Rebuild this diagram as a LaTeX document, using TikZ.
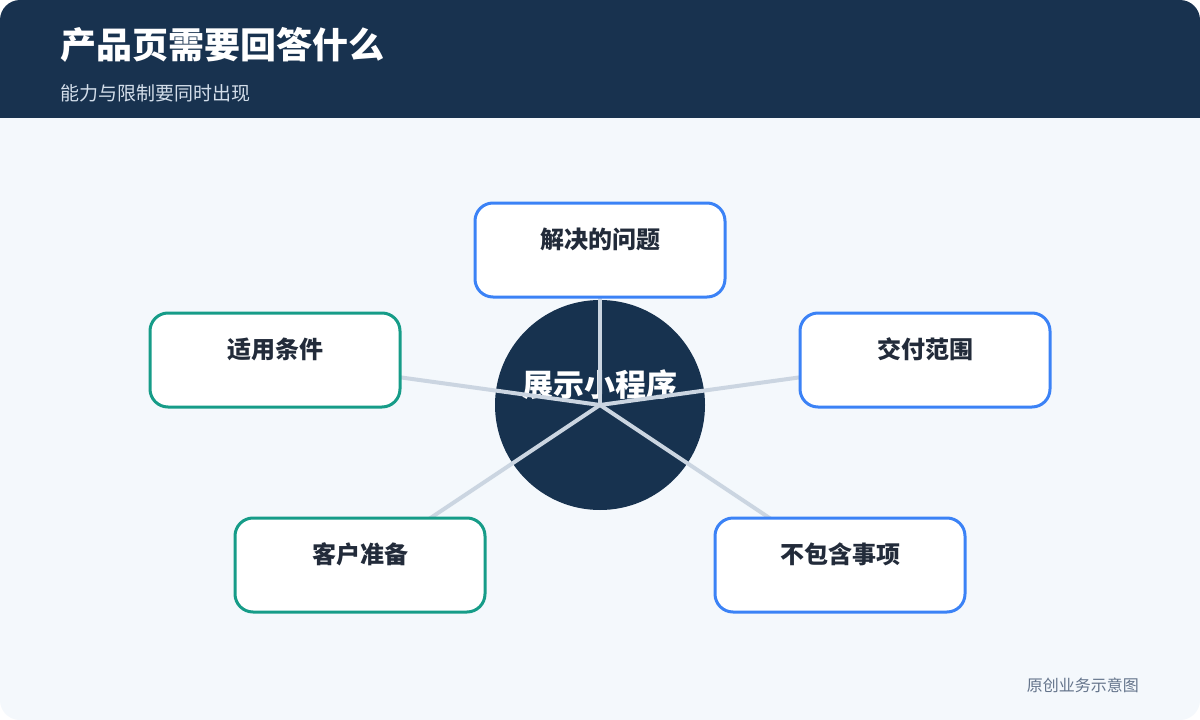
\documentclass[tikz,border=0pt]{standalone}
\usepackage{fontspec}
\setmainfont{Noto Sans CJK SC}
\definecolor{bg}{HTML}{F4F8FC}
\definecolor{head}{HTML}{18324F}
\definecolor{hubc}{HTML}{17324F}
\definecolor{linkc}{HTML}{CBD5E1}
\definecolor{blueb}{HTML}{3B82F6}
\definecolor{greenb}{HTML}{169C88}
\definecolor{txt}{HTML}{222B3A}
\definecolor{subc}{HTML}{D3DEEA}
\definecolor{foot}{HTML}{64748B}
\tikzset{
  box/.style={draw=#1, line width=3pt, fill=white, rounded corners=18pt,
    minimum width=250pt, minimum height=94pt, inner sep=0pt},
  boxtext/.style={text=txt, font=\fontsize{24}{28}\selectfont\bfseries, inner sep=0pt},
  link/.style={draw=linkc, line width=4pt},
}
\begin{document}
\begin{tikzpicture}[x=1pt,y=-1pt]
\useasboundingbox (0,0) rectangle (1200,720);
\fill[white] (0,0) rectangle (1200,720);
\fill[bg, rounded corners=20pt] (0,0) rectangle (1200,720);
\begin{scope}
\clip[rounded corners=20pt] (0,0) rectangle (1200,720);
\fill[head] (0,0) rectangle (1200,118);
\end{scope}
\node[anchor=west, text=white, inner sep=0pt, font=\fontsize{36}{42}\selectfont\bfseries] (title) at (60,45) {产品页需要回答什么};
\node[anchor=west, text=subc, inner sep=0pt, font=\fontsize{19}{23}\selectfont] (sub) at (60,93) {能力与限制要同时出现};

\node[circle, fill=hubc, minimum size=210pt, inner sep=0pt] (hub) at (600,405) {};
\node[text=white, inner sep=0pt, font=\fontsize{31}{36}\selectfont\bfseries] (hubt) at (600,385) {展示小程序};

\coordinate (c1) at (600,250);
\coordinate (c2) at (925,360);
\coordinate (c3) at (840,565);
\coordinate (c4) at (360,565);
\coordinate (c5) at (275,360);
\foreach \c in {c1,c2,c3,c4,c5} \draw[link] (hub.center) -- (\c);

\node[box=blueb] (b1) at (c1) {};
\node[box=blueb] (b2) at (c2) {};
\node[box=blueb] (b3) at (c3) {};
\node[box=greenb] (b4) at (c4) {};
\node[box=greenb] (b5) at (c5) {};

\node[boxtext] (t1) at ([yshift=11pt]b1.center) {解决的问题};
\node[boxtext] (t2) at ([yshift=11pt]b2.center) {交付范围};
\node[boxtext] (t3) at ([yshift=11pt]b3.center) {不包含事项};
\node[boxtext] (t4) at ([yshift=11pt]b4.center) {客户准备};
\node[boxtext] (t5) at ([yshift=11pt]b5.center) {适用条件};

\node[anchor=east, text=foot, inner sep=0pt, font=\fontsize{16}{19}\selectfont] (ft) at (1139,685) {原创业务示意图};
\end{tikzpicture}
\end{document}
